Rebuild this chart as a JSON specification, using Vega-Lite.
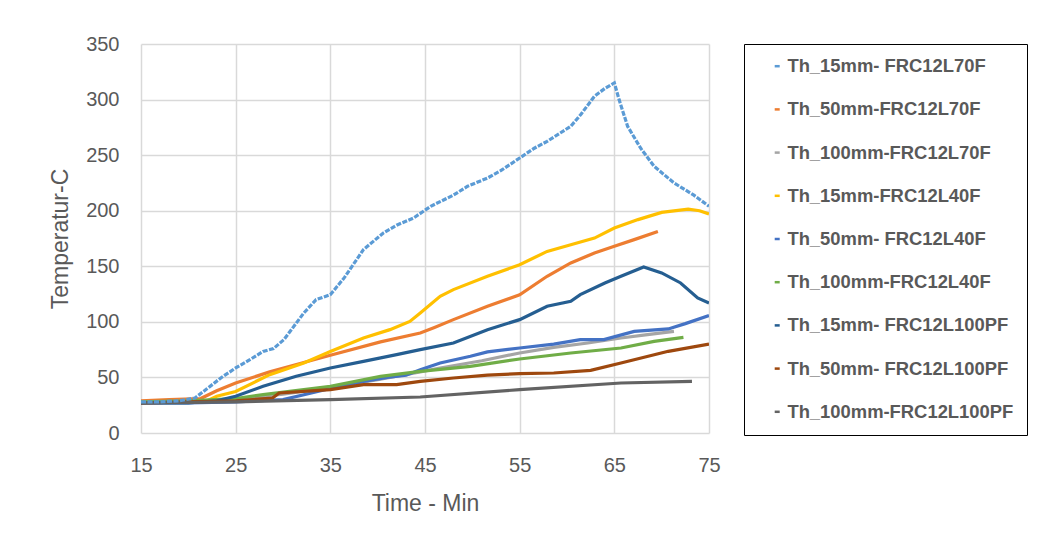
{
  "$schema": "https://vega.github.io/schema/vega-lite/v6.json",
  "width": 568,
  "height": 389,
  "autosize": "none",
  "padding": {"left": 141, "top": 44, "right": 345, "bottom": 100},
  "background": "white",
  "config": {"view": {"stroke": null}},
  "data": {"values": [
    {"s": "Th_15mm- FRC12L70F", "t": 15, "v": 28},
    {"s": "Th_15mm- FRC12L70F", "t": 17, "v": 28},
    {"s": "Th_15mm- FRC12L70F", "t": 19, "v": 29},
    {"s": "Th_15mm- FRC12L70F", "t": 20.7, "v": 31.5},
    {"s": "Th_15mm- FRC12L70F", "t": 22, "v": 40},
    {"s": "Th_15mm- FRC12L70F", "t": 23.5, "v": 50},
    {"s": "Th_15mm- FRC12L70F", "t": 25, "v": 58.5},
    {"s": "Th_15mm- FRC12L70F", "t": 26.5, "v": 66},
    {"s": "Th_15mm- FRC12L70F", "t": 27.9, "v": 73.4},
    {"s": "Th_15mm- FRC12L70F", "t": 29, "v": 76},
    {"s": "Th_15mm- FRC12L70F", "t": 30.1, "v": 84},
    {"s": "Th_15mm- FRC12L70F", "t": 32.2, "v": 108},
    {"s": "Th_15mm- FRC12L70F", "t": 33.5, "v": 120},
    {"s": "Th_15mm- FRC12L70F", "t": 35, "v": 124.4},
    {"s": "Th_15mm- FRC12L70F", "t": 36.5, "v": 140},
    {"s": "Th_15mm- FRC12L70F", "t": 38.5, "v": 165},
    {"s": "Th_15mm- FRC12L70F", "t": 40.6, "v": 180},
    {"s": "Th_15mm- FRC12L70F", "t": 42, "v": 187},
    {"s": "Th_15mm- FRC12L70F", "t": 43.8, "v": 193.5},
    {"s": "Th_15mm- FRC12L70F", "t": 45.6, "v": 204},
    {"s": "Th_15mm- FRC12L70F", "t": 48, "v": 214},
    {"s": "Th_15mm- FRC12L70F", "t": 49.5, "v": 222},
    {"s": "Th_15mm- FRC12L70F", "t": 51.6, "v": 229.4},
    {"s": "Th_15mm- FRC12L70F", "t": 53, "v": 236},
    {"s": "Th_15mm- FRC12L70F", "t": 55, "v": 247.4},
    {"s": "Th_15mm- FRC12L70F", "t": 56.5, "v": 256},
    {"s": "Th_15mm- FRC12L70F", "t": 57.9, "v": 262.4},
    {"s": "Th_15mm- FRC12L70F", "t": 60.4, "v": 276},
    {"s": "Th_15mm- FRC12L70F", "t": 61.5, "v": 287},
    {"s": "Th_15mm- FRC12L70F", "t": 62.9, "v": 303},
    {"s": "Th_15mm- FRC12L70F", "t": 64, "v": 310},
    {"s": "Th_15mm- FRC12L70F", "t": 65, "v": 315},
    {"s": "Th_15mm- FRC12L70F", "t": 65.5, "v": 300},
    {"s": "Th_15mm- FRC12L70F", "t": 66.4, "v": 276},
    {"s": "Th_15mm- FRC12L70F", "t": 67.8, "v": 256},
    {"s": "Th_15mm- FRC12L70F", "t": 69.2, "v": 240},
    {"s": "Th_15mm- FRC12L70F", "t": 71.3, "v": 225},
    {"s": "Th_15mm- FRC12L70F", "t": 73.4, "v": 214},
    {"s": "Th_15mm- FRC12L70F", "t": 75, "v": 204},

    {"s": "Th_50mm-FRC12L70F", "t": 15, "v": 29},
    {"s": "Th_50mm-FRC12L70F", "t": 18, "v": 30},
    {"s": "Th_50mm-FRC12L70F", "t": 21.3, "v": 31},
    {"s": "Th_50mm-FRC12L70F", "t": 23, "v": 38},
    {"s": "Th_50mm-FRC12L70F", "t": 25, "v": 45},
    {"s": "Th_50mm-FRC12L70F", "t": 28.6, "v": 55},
    {"s": "Th_50mm-FRC12L70F", "t": 32, "v": 63},
    {"s": "Th_50mm-FRC12L70F", "t": 35, "v": 70},
    {"s": "Th_50mm-FRC12L70F", "t": 40.3, "v": 82},
    {"s": "Th_50mm-FRC12L70F", "t": 44.5, "v": 90},
    {"s": "Th_50mm-FRC12L70F", "t": 46, "v": 95},
    {"s": "Th_50mm-FRC12L70F", "t": 48, "v": 102},
    {"s": "Th_50mm-FRC12L70F", "t": 51.6, "v": 114},
    {"s": "Th_50mm-FRC12L70F", "t": 55, "v": 124.4},
    {"s": "Th_50mm-FRC12L70F", "t": 57.9, "v": 141},
    {"s": "Th_50mm-FRC12L70F", "t": 60.4, "v": 153},
    {"s": "Th_50mm-FRC12L70F", "t": 62.9, "v": 162},
    {"s": "Th_50mm-FRC12L70F", "t": 65, "v": 168},
    {"s": "Th_50mm-FRC12L70F", "t": 67.1, "v": 174},
    {"s": "Th_50mm-FRC12L70F", "t": 69.6, "v": 181.4},

    {"s": "Th_100mm-FRC12L70F", "t": 15, "v": 27},
    {"s": "Th_100mm-FRC12L70F", "t": 20, "v": 28},
    {"s": "Th_100mm-FRC12L70F", "t": 25, "v": 30},
    {"s": "Th_100mm-FRC12L70F", "t": 30, "v": 35},
    {"s": "Th_100mm-FRC12L70F", "t": 35, "v": 41},
    {"s": "Th_100mm-FRC12L70F", "t": 40, "v": 48},
    {"s": "Th_100mm-FRC12L70F", "t": 44.5, "v": 55},
    {"s": "Th_100mm-FRC12L70F", "t": 46.6, "v": 58.5},
    {"s": "Th_100mm-FRC12L70F", "t": 51, "v": 65},
    {"s": "Th_100mm-FRC12L70F", "t": 55, "v": 72},
    {"s": "Th_100mm-FRC12L70F", "t": 58.6, "v": 77},
    {"s": "Th_100mm-FRC12L70F", "t": 62.2, "v": 81},
    {"s": "Th_100mm-FRC12L70F", "t": 65.7, "v": 85.5},
    {"s": "Th_100mm-FRC12L70F", "t": 68.5, "v": 88.5},
    {"s": "Th_100mm-FRC12L70F", "t": 71.3, "v": 91.4},

    {"s": "Th_15mm-FRC12L40F", "t": 15, "v": 28},
    {"s": "Th_15mm-FRC12L40F", "t": 20, "v": 28},
    {"s": "Th_15mm-FRC12L40F", "t": 22, "v": 29},
    {"s": "Th_15mm-FRC12L40F", "t": 23, "v": 33},
    {"s": "Th_15mm-FRC12L40F", "t": 25, "v": 37.4},
    {"s": "Th_15mm-FRC12L40F", "t": 28.6, "v": 52.5},
    {"s": "Th_15mm-FRC12L40F", "t": 32.2, "v": 63},
    {"s": "Th_15mm-FRC12L40F", "t": 35, "v": 73.4},
    {"s": "Th_15mm-FRC12L40F", "t": 38.5, "v": 85.5},
    {"s": "Th_15mm-FRC12L40F", "t": 41.3, "v": 93},
    {"s": "Th_15mm-FRC12L40F", "t": 43.4, "v": 100.4},
    {"s": "Th_15mm-FRC12L40F", "t": 44.5, "v": 108},
    {"s": "Th_15mm-FRC12L40F", "t": 46.6, "v": 123},
    {"s": "Th_15mm-FRC12L40F", "t": 48, "v": 129},
    {"s": "Th_15mm-FRC12L40F", "t": 51.6, "v": 141},
    {"s": "Th_15mm-FRC12L40F", "t": 55, "v": 151.4},
    {"s": "Th_15mm-FRC12L40F", "t": 57.9, "v": 163.4},
    {"s": "Th_15mm-FRC12L40F", "t": 60.4, "v": 169.4},
    {"s": "Th_15mm-FRC12L40F", "t": 62.9, "v": 175.4},
    {"s": "Th_15mm-FRC12L40F", "t": 65, "v": 184.4},
    {"s": "Th_15mm-FRC12L40F", "t": 67.5, "v": 192},
    {"s": "Th_15mm-FRC12L40F", "t": 70, "v": 198.5},
    {"s": "Th_15mm-FRC12L40F", "t": 72.8, "v": 201.5},
    {"s": "Th_15mm-FRC12L40F", "t": 74, "v": 200},
    {"s": "Th_15mm-FRC12L40F", "t": 75, "v": 197},

    {"s": "Th_50mm- FRC12L40F", "t": 15, "v": 27},
    {"s": "Th_50mm- FRC12L40F", "t": 20, "v": 27},
    {"s": "Th_50mm- FRC12L40F", "t": 25, "v": 28},
    {"s": "Th_50mm- FRC12L40F", "t": 30, "v": 30},
    {"s": "Th_50mm- FRC12L40F", "t": 33, "v": 36},
    {"s": "Th_50mm- FRC12L40F", "t": 35, "v": 40},
    {"s": "Th_50mm- FRC12L40F", "t": 38.5, "v": 46.5},
    {"s": "Th_50mm- FRC12L40F", "t": 41, "v": 50},
    {"s": "Th_50mm- FRC12L40F", "t": 43, "v": 52},
    {"s": "Th_50mm- FRC12L40F", "t": 44.5, "v": 57},
    {"s": "Th_50mm- FRC12L40F", "t": 46.6, "v": 63},
    {"s": "Th_50mm- FRC12L40F", "t": 49.8, "v": 69},
    {"s": "Th_50mm- FRC12L40F", "t": 51.6, "v": 73},
    {"s": "Th_50mm- FRC12L40F", "t": 55, "v": 76.5},
    {"s": "Th_50mm- FRC12L40F", "t": 58.6, "v": 80},
    {"s": "Th_50mm- FRC12L40F", "t": 61.4, "v": 84},
    {"s": "Th_50mm- FRC12L40F", "t": 63.9, "v": 84},
    {"s": "Th_50mm- FRC12L40F", "t": 67.1, "v": 91.4},
    {"s": "Th_50mm- FRC12L40F", "t": 70.7, "v": 93.6},
    {"s": "Th_50mm- FRC12L40F", "t": 72.5, "v": 98.4},
    {"s": "Th_50mm- FRC12L40F", "t": 75, "v": 105.6},

    {"s": "Th_100mm-FRC12L40F", "t": 15, "v": 28},
    {"s": "Th_100mm-FRC12L40F", "t": 20, "v": 29},
    {"s": "Th_100mm-FRC12L40F", "t": 25, "v": 31},
    {"s": "Th_100mm-FRC12L40F", "t": 27.9, "v": 34.5},
    {"s": "Th_100mm-FRC12L40F", "t": 35, "v": 42},
    {"s": "Th_100mm-FRC12L40F", "t": 40.3, "v": 51},
    {"s": "Th_100mm-FRC12L40F", "t": 44.5, "v": 55.5},
    {"s": "Th_100mm-FRC12L40F", "t": 49.8, "v": 60},
    {"s": "Th_100mm-FRC12L40F", "t": 55, "v": 66.6},
    {"s": "Th_100mm-FRC12L40F", "t": 60.4, "v": 72},
    {"s": "Th_100mm-FRC12L40F", "t": 65.7, "v": 76.5},
    {"s": "Th_100mm-FRC12L40F", "t": 69.2, "v": 82.5},
    {"s": "Th_100mm-FRC12L40F", "t": 72.3, "v": 86},

    {"s": "Th_15mm- FRC12L100PF", "t": 15, "v": 27},
    {"s": "Th_15mm- FRC12L100PF", "t": 20, "v": 27},
    {"s": "Th_15mm- FRC12L100PF", "t": 23, "v": 29},
    {"s": "Th_15mm- FRC12L100PF", "t": 25, "v": 33},
    {"s": "Th_15mm- FRC12L100PF", "t": 27.9, "v": 42},
    {"s": "Th_15mm- FRC12L100PF", "t": 31.4, "v": 51},
    {"s": "Th_15mm- FRC12L100PF", "t": 35, "v": 58.5},
    {"s": "Th_15mm- FRC12L100PF", "t": 38.5, "v": 64.4},
    {"s": "Th_15mm- FRC12L100PF", "t": 42, "v": 70.5},
    {"s": "Th_15mm- FRC12L100PF", "t": 44.5, "v": 75},
    {"s": "Th_15mm- FRC12L100PF", "t": 48, "v": 81},
    {"s": "Th_15mm- FRC12L100PF", "t": 51.6, "v": 93},
    {"s": "Th_15mm- FRC12L100PF", "t": 55, "v": 102},
    {"s": "Th_15mm- FRC12L100PF", "t": 57.9, "v": 114},
    {"s": "Th_15mm- FRC12L100PF", "t": 60.4, "v": 118.5},
    {"s": "Th_15mm- FRC12L100PF", "t": 61.4, "v": 124.5},
    {"s": "Th_15mm- FRC12L100PF", "t": 64, "v": 135},
    {"s": "Th_15mm- FRC12L100PF", "t": 65.7, "v": 141},
    {"s": "Th_15mm- FRC12L100PF", "t": 68.1, "v": 149.4},
    {"s": "Th_15mm- FRC12L100PF", "t": 70, "v": 144},
    {"s": "Th_15mm- FRC12L100PF", "t": 72, "v": 135},
    {"s": "Th_15mm- FRC12L100PF", "t": 73.8, "v": 121.5},
    {"s": "Th_15mm- FRC12L100PF", "t": 75, "v": 117},

    {"s": "Th_50mm- FRC12L100PF", "t": 15, "v": 27},
    {"s": "Th_50mm- FRC12L100PF", "t": 20, "v": 28},
    {"s": "Th_50mm- FRC12L100PF", "t": 25, "v": 29},
    {"s": "Th_50mm- FRC12L100PF", "t": 28.9, "v": 31.5},
    {"s": "Th_50mm- FRC12L100PF", "t": 29.6, "v": 36},
    {"s": "Th_50mm- FRC12L100PF", "t": 35, "v": 39},
    {"s": "Th_50mm- FRC12L100PF", "t": 38.5, "v": 43.5},
    {"s": "Th_50mm- FRC12L100PF", "t": 42, "v": 43.5},
    {"s": "Th_50mm- FRC12L100PF", "t": 44.5, "v": 46.5},
    {"s": "Th_50mm- FRC12L100PF", "t": 48, "v": 49.5},
    {"s": "Th_50mm- FRC12L100PF", "t": 51.6, "v": 52},
    {"s": "Th_50mm- FRC12L100PF", "t": 55, "v": 53.4},
    {"s": "Th_50mm- FRC12L100PF", "t": 58.6, "v": 54},
    {"s": "Th_50mm- FRC12L100PF", "t": 62.5, "v": 56.4},
    {"s": "Th_50mm- FRC12L100PF", "t": 65.7, "v": 63},
    {"s": "Th_50mm- FRC12L100PF", "t": 70.7, "v": 73.5},
    {"s": "Th_50mm- FRC12L100PF", "t": 75, "v": 80},

    {"s": "Th_100mm-FRC12L100PF", "t": 15, "v": 27},
    {"s": "Th_100mm-FRC12L100PF", "t": 25, "v": 28},
    {"s": "Th_100mm-FRC12L100PF", "t": 35, "v": 30},
    {"s": "Th_100mm-FRC12L100PF", "t": 44.5, "v": 32.4},
    {"s": "Th_100mm-FRC12L100PF", "t": 55, "v": 39},
    {"s": "Th_100mm-FRC12L100PF", "t": 65.7, "v": 45},
    {"s": "Th_100mm-FRC12L100PF", "t": 73.2, "v": 46.5}
  ]},
  "encoding": {
    "x": {
      "field": "t", "type": "quantitative",
      "scale": {"domain": [15, 75], "nice": false, "zero": false},
      "axis": {
        "values": [15, 25, 35, 45, 55, 65, 75],
        "title": "Time - Min",
        "domain": false, "ticks": false,
        "grid": true, "gridColor": "#d9d9d9", "gridWidth": 1.5,
        "labelFont": "Liberation Sans", "labelFontSize": 20, "labelColor": "#595959",
        "labelPadding": 22, "labelFlush": false,
        "titleFont": "Liberation Sans", "titleFontSize": 23, "titleFontWeight": "normal", "titleColor": "#595959",
        "titleY": 70, "titleBaseline": "middle"
      }
    },
    "y": {
      "field": "v", "type": "quantitative",
      "scale": {"domain": [0, 350], "nice": false},
      "axis": {
        "values": [0, 50, 100, 150, 200, 250, 300, 350],
        "title": "Temperatur-C",
        "domain": false, "ticks": false,
        "grid": true, "gridColor": "#d9d9d9", "gridWidth": 1.5,
        "labelFont": "Liberation Sans", "labelFontSize": 20, "labelColor": "#595959",
        "labelPadding": 22,
        "titleFont": "Liberation Sans", "titleFontSize": 23, "titleFontWeight": "normal", "titleColor": "#595959",
        "titleX": -81, "titleY": 194.5, "titleBaseline": "middle", "titleAlign": "center"
      }
    },
    "color": {
      "field": "s", "type": "nominal",
      "scale": {
        "domain": ["Th_15mm- FRC12L70F", "Th_50mm-FRC12L70F", "Th_100mm-FRC12L70F", "Th_15mm-FRC12L40F", "Th_50mm- FRC12L40F", "Th_100mm-FRC12L40F", "Th_15mm- FRC12L100PF", "Th_50mm- FRC12L100PF", "Th_100mm-FRC12L100PF"],
        "range": ["#5b9bd5", "#ed7d31", "#a5a5a5", "#ffc000", "#4472c4", "#70ad47", "#255e91", "#9e480e", "#636363"]
      },
      "legend": {
        "title": null,
        "orient": "none",
        "legendX": 603,
        "legendY": 0,
        "direction": "vertical",
        "padding": 13,
        "strokeColor": "#000000",
        "fillColor": "#ffffff",
        "symbolType": "M-1,0H1",
        "symbolSize": 25,
        "symbolStrokeWidth": 2.5,
        "symbolOffset": 11,
        "labelOffset": 1,
        "labelFont": "Liberation Sans",
        "labelFontSize": 18.4,
        "labelFontWeight": "bold",
        "labelColor": "#595959",
        "labelLimit": 400,
        "rowPadding": 24.2
      }
    }
  },
  "layer": [
    {
      "transform": [{"filter": "datum.s !== 'Th_15mm- FRC12L70F'"}],
      "mark": {"type": "line", "strokeWidth": 3.2, "clip": true}
    },
    {
      "transform": [{"filter": "datum.s === 'Th_15mm- FRC12L70F'"}],
      "mark": {"type": "line", "strokeWidth": 3.2, "strokeDash": [5, 1.5], "clip": true}
    }
  ]
}
